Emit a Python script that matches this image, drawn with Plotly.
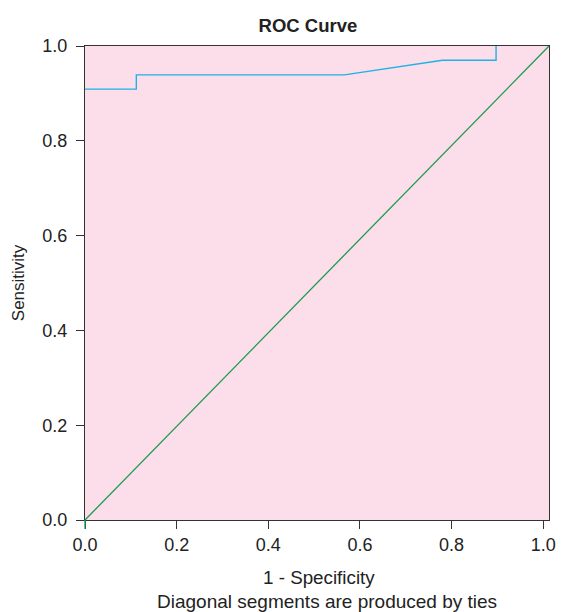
import plotly.graph_objects as go

# ROC curve data (1 - specificity, sensitivity)
fpr = [0.0, 0.112, 0.112, 0.566, 0.780, 0.897, 0.897]
tpr = [0.909, 0.909, 0.939, 0.939, 0.970, 0.970, 1.0]

x_ticks = [0.0, 0.2, 0.4, 0.6, 0.8, 1.0]
y_ticks = [0.0, 0.2, 0.4, 0.6, 0.8, 1.0]
x_max = 1.0125

fig = go.Figure()
fig.add_trace(go.Scatter(x=fpr, y=tpr, mode="lines",
                         line=dict(color="#1FB1E8", width=1.4), showlegend=False))
# reference diagonal from corner to corner of the plot area
fig.add_shape(type="line", xref="paper", yref="paper", x0=0, y0=0, x1=1, y1=1,
              line=dict(color="#1A9A55", width=1.3))
fig.add_shape(type="line", xref="paper", yref="paper", x0=0, y0=0, x1=0, y1=-0.019,
              line=dict(color="#1A9A55", width=1.3))

fig.update_layout(
    width=562, height=612, autosize=False,
    margin=dict(l=85, r=13, t=46, b=92, autoexpand=False),
    paper_bgcolor="white", plot_bgcolor="#FBDEE9",
    font=dict(family="Liberation Sans, Arial", size=18, color="#222"),
    title=dict(text="<b>ROC Curve</b>", x=0.548, xanchor="center", y=0.959, yanchor="middle",
               font=dict(size=18.5, color="#222")),
    showlegend=False,
)
fig.update_xaxes(range=[0, x_max], tickvals=x_ticks, ticktext=[f"{v:.1f}" for v in x_ticks],
                 showgrid=False, zeroline=False, showline=True, linecolor="#333", linewidth=1.3,
                 mirror=True, ticks="outside", ticklen=8, tickcolor="#333", tickwidth=1.2,
                 tickfont=dict(size=18), automargin=False)
fig.update_yaxes(range=[0, 1], tickvals=y_ticks, ticktext=[f"{v:.1f}\u00a0" for v in y_ticks],
                 showgrid=False, zeroline=False, showline=True, linecolor="#333", linewidth=1.3,
                 mirror=True, ticks="outside", ticklen=8, tickcolor="#333", tickwidth=1.2,
                 tickfont=dict(size=18), automargin=False)
fig.add_annotation(text="Sensitivity", xref="paper", yref="paper", x=-0.144, y=0.5,
                   xanchor="center", yanchor="middle", textangle=-90, showarrow=False,
                   font=dict(size=17))
fig.add_annotation(text="1 - Specificity", xref="paper", yref="paper", x=0.504, y=-0.1215,
                   yanchor="middle", showarrow=False, font=dict(size=18.8))
fig.add_annotation(text="Diagonal segments are produced by ties", xref="paper", yref="paper",
                   x=0.5216, y=-0.172, yanchor="middle", showarrow=False, font=dict(size=19))

fig.write_html("out.html",
               config={"displayModeBar": False, "responsive": False},
               post_script="document.body.style.margin='0';document.body.style.overflow='hidden';")
